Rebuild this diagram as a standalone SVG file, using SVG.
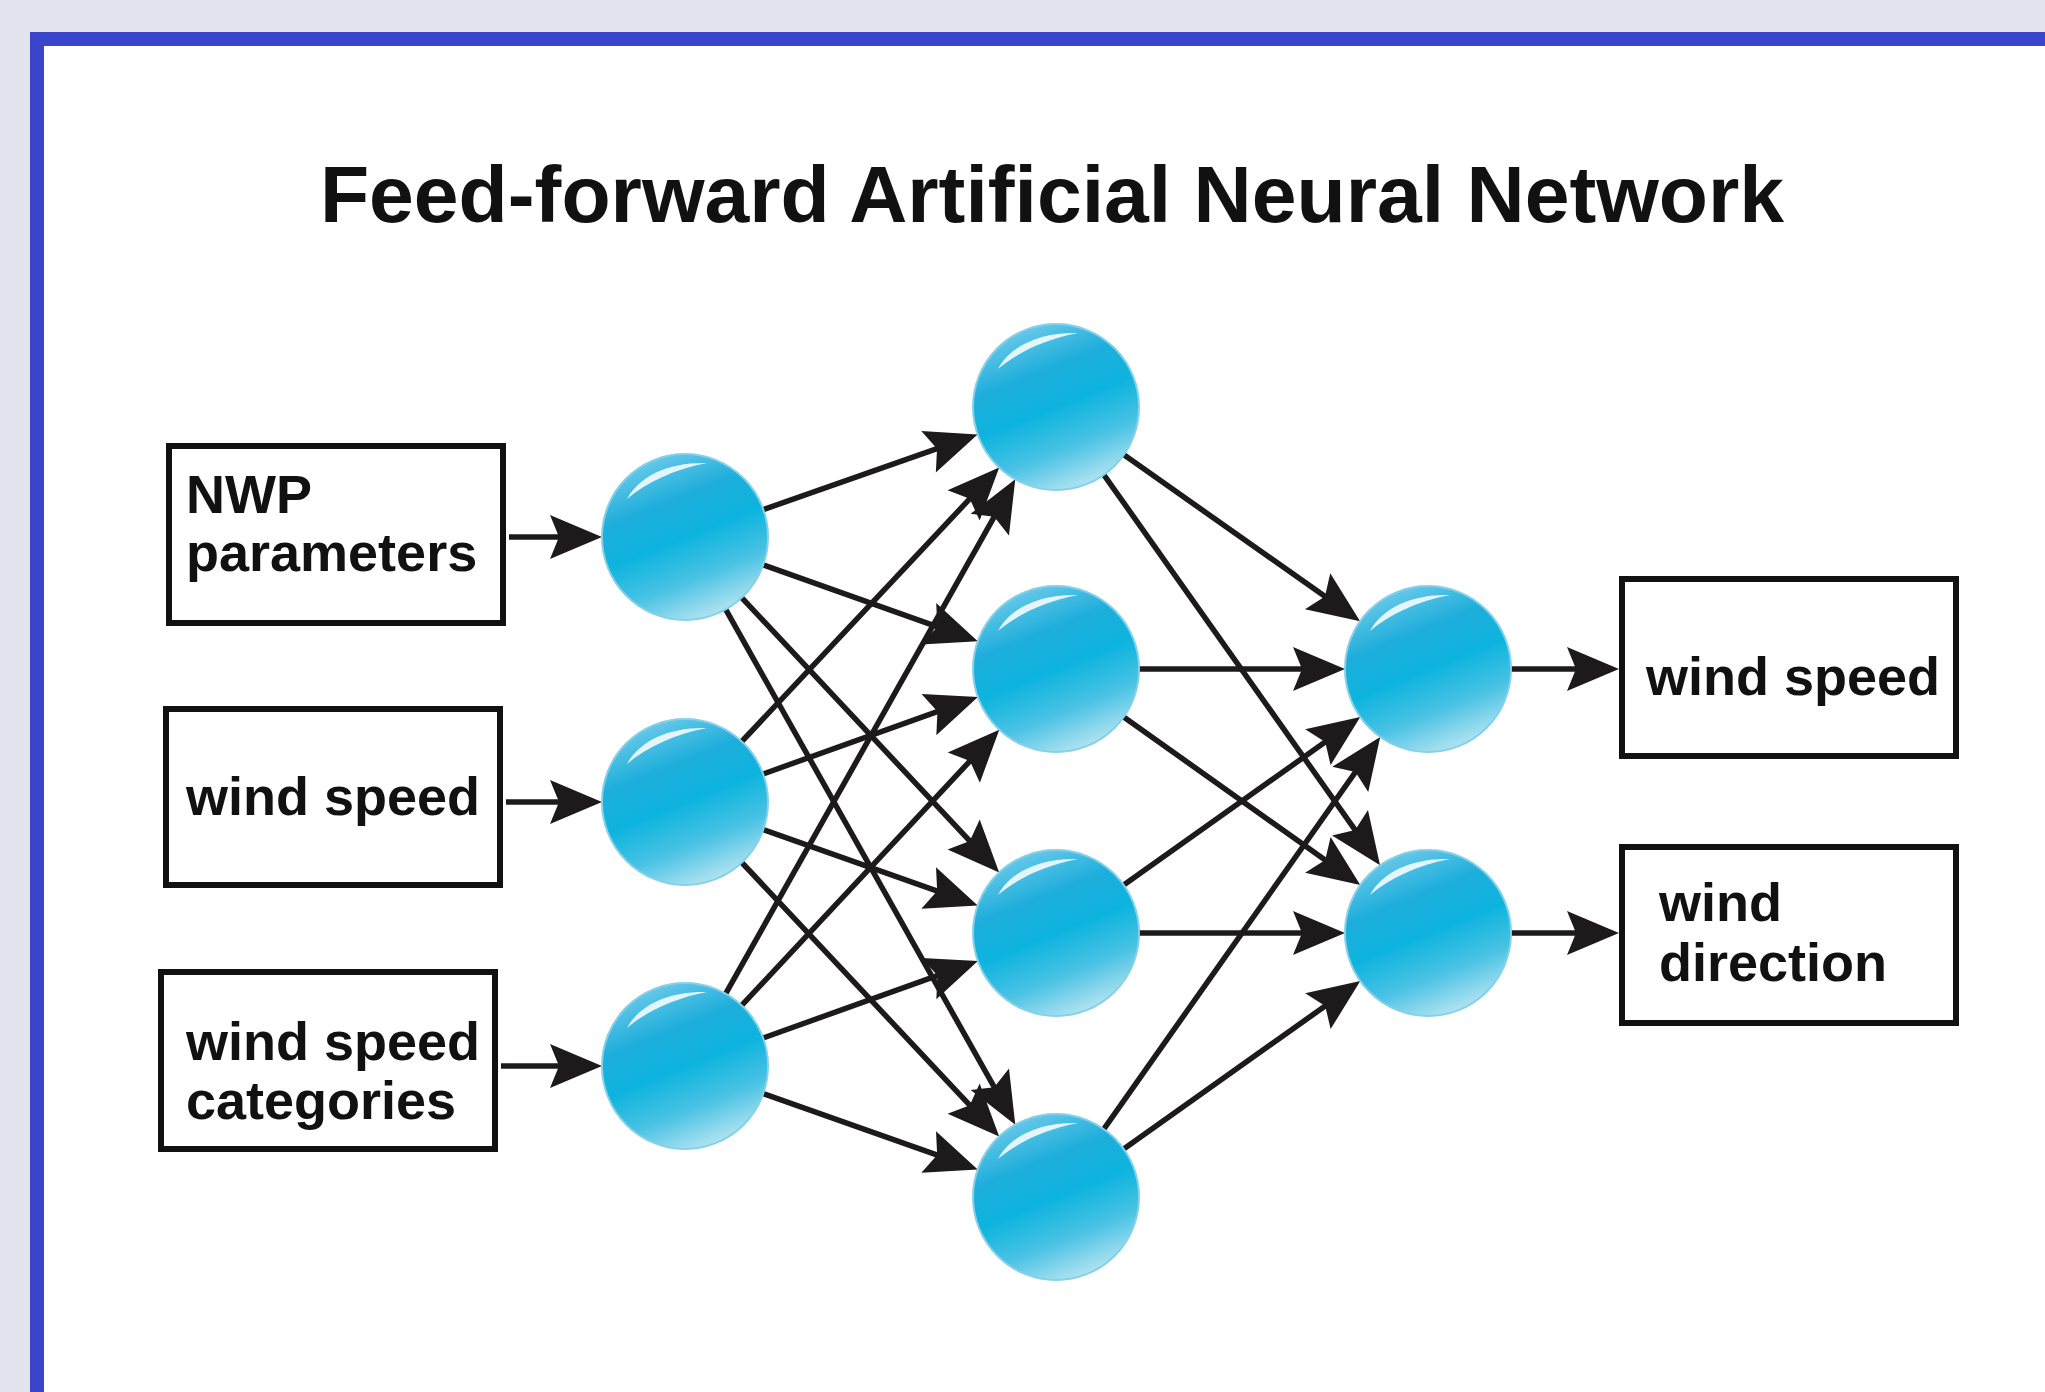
<svg xmlns="http://www.w3.org/2000/svg" xmlns:xlink="http://www.w3.org/1999/xlink" width="2045" height="1392" viewBox="0 0 2045 1392">
<style>
.box{fill:#fff;stroke:#111;stroke-width:6}
.lbl{font-family:"Liberation Sans",Arial,sans-serif;font-weight:bold;font-size:54px;fill:#111}
.title{font-family:"Liberation Sans",Arial,sans-serif;font-weight:bold;font-size:80.5px;fill:#111}
.edge{stroke:#1c1a1a;stroke-width:5.5;fill:none;marker-end:url(#arr)}
</style>
<defs>
<marker id="arr" markerUnits="userSpaceOnUse" viewBox="-44 -24 58 48" refX="0" refY="0" markerWidth="58" markerHeight="48" orient="auto">
<path d="M12,0 L-40,-22 L-31,0 L-40,22 Z" fill="#1c1a1a"/>
</marker>
<linearGradient id="ball" x1="0.25" y1="0" x2="0.65" y2="1">
<stop offset="0" stop-color="#72cdeb"/>
<stop offset="0.3" stop-color="#1eaedb"/>
<stop offset="0.52" stop-color="#0db4de"/>
<stop offset="0.75" stop-color="#48c2e4"/>
<stop offset="1" stop-color="#b8e5f2"/>
</linearGradient>
<g id="neuron">
<circle r="83" fill="url(#ball)" stroke="#86d0ea" stroke-width="2"/>
<path d="M-58,-38 C-45,-62 -15,-75 22,-74 C-10,-68 -38,-55 -58,-38 Z" fill="#ffffff" opacity="0.85"/>
</g>
</defs>
<rect x="0" y="0" width="2045" height="1392" fill="#e2e5ee"/>
<rect x="37" y="39" width="2100" height="1420" fill="#ffffff" stroke="#3a45cc" stroke-width="14"/>
<text class="title" x="1052" y="222" text-anchor="middle">Feed-forward Artificial Neural Network</text>
<g id="connectors">
<line class="edge" x1="509" y1="537" x2="590" y2="537"/>
<line class="edge" x1="506" y1="802" x2="590" y2="802"/>
<line class="edge" x1="501" y1="1066" x2="590" y2="1066"/>
<line class="edge" x1="763.3" y1="509.6" x2="966.3" y2="438.4"/>
<line class="edge" x1="763.2" y1="564.8" x2="966.5" y2="637.2"/>
<line class="edge" x1="741.7" y1="597.6" x2="991.0" y2="863.7"/>
<line class="edge" x1="725.7" y1="609.4" x2="1009.4" y2="1114.2"/>
<line class="edge" x1="741.8" y1="741.5" x2="991.0" y2="476.2"/>
<line class="edge" x1="763.1" y1="774.0" x2="966.6" y2="701.1"/>
<line class="edge" x1="763.3" y1="829.6" x2="966.4" y2="901.4"/>
<line class="edge" x1="741.8" y1="862.5" x2="991.0" y2="1127.8"/>
<line class="edge" x1="725.7" y1="993.7" x2="1009.4" y2="489.8"/>
<line class="edge" x1="741.7" y1="1005.4" x2="991.1" y2="738.4"/>
<line class="edge" x1="763.1" y1="1038.0" x2="966.6" y2="965.1"/>
<line class="edge" x1="763.3" y1="1093.6" x2="966.4" y2="1165.4"/>
<line class="edge" x1="1123.9" y1="454.8" x2="1350.3" y2="614.3"/>
<line class="edge" x1="1103.9" y1="474.8" x2="1373.1" y2="855.4"/>
<line class="edge" x1="1139" y1="669" x2="1333" y2="669"/>
<line class="edge" x1="1123.7" y1="717.0" x2="1350.5" y2="878.0"/>
<line class="edge" x1="1123.7" y1="885.0" x2="1350.5" y2="724.0"/>
<line class="edge" x1="1139" y1="933" x2="1333" y2="933"/>
<line class="edge" x1="1103.8" y1="1129.1" x2="1373.3" y2="746.7"/>
<line class="edge" x1="1123.7" y1="1149.0" x2="1350.5" y2="988.0"/>
<line class="edge" x1="1511" y1="669" x2="1607" y2="669"/>
<line class="edge" x1="1511" y1="933" x2="1607" y2="933"/>
</g>
<g id="in-nwp"><rect class="box" x="169" y="446" width="334" height="177"/><text class="lbl" x="186" y="513">NWP</text><text class="lbl" x="186" y="571">parameters</text></g>
<g id="in-windspeed"><rect class="box" x="166" y="709" width="334" height="176"/><text class="lbl" x="186" y="815">wind speed</text></g>
<g id="in-categories"><rect class="box" x="161" y="972" width="334" height="177"/><text class="lbl" x="186" y="1060">wind speed</text><text class="lbl" x="186" y="1119">categories</text></g>
<g id="out-windspeed"><rect class="box" x="1622" y="579" width="334" height="177"/><text class="lbl" x="1646" y="695">wind speed</text></g>
<g id="out-winddirection"><rect class="box" x="1622" y="847" width="334" height="176"/><text class="lbl" x="1659" y="921">wind</text><text class="lbl" x="1659" y="981">direction</text></g>
<g id="i1"><use xlink:href="#neuron" transform="translate(685,537)"/></g>
<g id="i2"><use xlink:href="#neuron" transform="translate(685,802)"/></g>
<g id="i3"><use xlink:href="#neuron" transform="translate(685,1066)"/></g>
<g id="h1"><use xlink:href="#neuron" transform="translate(1056,407)"/></g>
<g id="h2"><use xlink:href="#neuron" transform="translate(1056,669)"/></g>
<g id="h3"><use xlink:href="#neuron" transform="translate(1056,933)"/></g>
<g id="h4"><use xlink:href="#neuron" transform="translate(1056,1197)"/></g>
<g id="o1"><use xlink:href="#neuron" transform="translate(1428,669)"/></g>
<g id="o2"><use xlink:href="#neuron" transform="translate(1428,933)"/></g>
</svg>
